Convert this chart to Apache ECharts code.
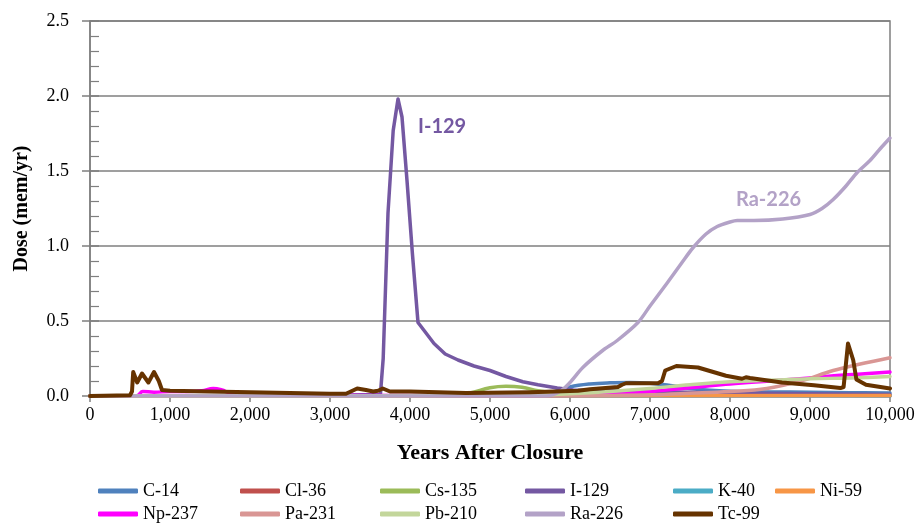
<!DOCTYPE html>
<html>
<head>
<meta charset="utf-8">
<script src="https://cdn.jsdelivr.net/npm/echarts@6/dist/echarts.min.js"></script>
<style>
  html, body { margin: 0; padding: 0; background: #fff; }
  #chart { width: 921px; height: 523px; }
</style>
</head>
<body>
<div id="chart"></div>
<script>
// values (years after closure, dose in mem/yr)
const c14Years = [0, 5500, 5750, 6000, 6250, 6500, 6750, 7000, 7250, 7500, 7750, 8000, 8500, 9000, 9500, 10000];
const c14Dose  = [0, 0.003, 0.02, 0.06, 0.08, 0.088, 0.09, 0.085, 0.07, 0.05, 0.038, 0.032, 0.027, 0.025, 0.022, 0.02];

const cl36Years = [0, 10000];
const cl36Dose  = [0, 0];

const cs135Years = [0, 4500, 4750, 5000, 5200, 5400, 5600, 5800, 6000, 7000, 8000, 9000, 10000];
const cs135Dose  = [0, 0.003, 0.02, 0.055, 0.065, 0.058, 0.035, 0.02, 0.015, 0.01, 0.008, 0.006, 0.005];

const i129Years = [0, 3000, 3630, 3665, 3725, 3790, 3850, 3900, 3962, 4030, 4100, 4200, 4300, 4440, 4600, 4800, 5000, 5200, 5410, 5600, 5840, 6040, 6500, 7000, 8000, 9000, 10000];
const i129Dose  = [0, 0.005, 0.01, 0.25, 1.22, 1.77, 1.98, 1.86, 1.44, 0.95, 0.49, 0.42, 0.35, 0.28, 0.24, 0.2, 0.17, 0.13, 0.095, 0.075, 0.053, 0.04, 0.035, 0.03, 0.02, 0.015, 0.01];

const k40Years = [0, 10000];
const k40Dose  = [0, 0];

const ni59Years = [0, 5000, 10000];
const ni59Dose  = [0, 0.002, 0.004];

const np237Years = [0, 550, 600, 660, 800, 1000, 1200, 1400, 1540, 1650, 1750, 2000, 3000, 4000, 5000, 6000, 6500, 6800, 7200, 7600, 8000, 8500, 9000, 9300, 9600, 10000];
const np237Dose  = [0, 0, 0.005, 0.03, 0.025, 0.03, 0.03, 0.035, 0.05, 0.04, 0.02, 0.01, 0.005, 0.003, 0.003, 0.005, 0.01, 0.02, 0.04, 0.06, 0.08, 0.1, 0.12, 0.135, 0.145, 0.16];

const pa231Years = [0, 6000, 6500, 7000, 7500, 8000, 8460, 8880, 9290, 9600, 10000];
const pa231Dose  = [0, 0.001, 0.004, 0.008, 0.018, 0.03, 0.05, 0.1, 0.17, 0.21, 0.255];

const pb210Years = [0, 5500, 6000, 6500, 7000, 7500, 8000, 8500, 9000, 9500, 10000];
const pb210Dose  = [0, 0.005, 0.015, 0.03, 0.05, 0.075, 0.095, 0.105, 0.115, 0.12, 0.13];

const ra226Years = [0, 5700, 5875, 6000, 6160, 6400, 6590, 6850, 7000, 7210, 7400, 7540, 7700, 7840, 8000, 8090, 8300, 8660, 9000, 9150, 9290, 9450, 9590, 9750, 9880, 10000];
const ra226Dose  = [0, 0, 0.03, 0.09, 0.19, 0.3, 0.37, 0.49, 0.6, 0.75, 0.89, 0.99, 1.08, 1.13, 1.16, 1.17, 1.17, 1.18, 1.21, 1.25, 1.31, 1.4, 1.49, 1.57, 1.65, 1.72];

const tc99Years = [0, 500, 525, 540, 590, 650, 730, 800, 860, 900, 1000, 1500, 2000, 2500, 3000, 3200, 3340, 3450, 3540, 3600, 3660, 3750, 4000, 4700, 5500, 6100, 6250, 6600, 6650, 6700, 7100, 7150, 7190, 7330, 7600, 7950, 8150, 8200, 8250, 8650, 9050, 9380, 9420, 9475, 9540, 9580, 9700, 10000];
const tc99Dose  = [0, 0.005, 0.03, 0.16, 0.09, 0.15, 0.09, 0.16, 0.1, 0.04, 0.035, 0.03, 0.025, 0.02, 0.015, 0.015, 0.05, 0.04, 0.03, 0.035, 0.05, 0.03, 0.03, 0.02, 0.025, 0.035, 0.045, 0.06, 0.075, 0.085, 0.085, 0.1, 0.17, 0.2, 0.19, 0.135, 0.115, 0.125, 0.12, 0.09, 0.072, 0.053, 0.06, 0.35, 0.24, 0.11, 0.075, 0.05];

const xTicks = [0, 1000, 2000, 3000, 4000, 5000, 6000, 7000, 8000, 9000, 10000];
const yTicks = [0, 0.5, 1.0, 1.5, 2.0, 2.5];

const legendRow1 = ['C-14', 'Cl-36', 'Cs-135', 'I-129', 'K-40', 'Ni-59'];
const legendRow2 = ['Np-237', 'Pa-231', 'Pb-210', 'Ra-226', 'Tc-99'];

function pairs(xs, ys) {
    return xs.map((x, i) => [x, ys[i]]);
}

const serifFont = '"Liberation Serif", "Times New Roman", serif';
const axisGray = '#7f7f7f';

const chart = echarts.init(document.getElementById('chart'));

function line(name, xs, ys, color, smooth, width) {
    return {
        name: name,
        type: 'line',
        data: pairs(xs, ys),
        showSymbol: false,
        symbol: 'none',
        smooth: smooth,
        lineStyle: { color: color, width: width || 3.5, cap: 'round', join: 'round' },
        itemStyle: { color: color },
        animation: false
    };
}

// one legend per entry so the columns sit where the picture has them
const legendCols = [98, 240, 380, 525, 673, 775];
function legendItem(name, col, top) {
    return {
        left: legendCols[col],
        top: top,
        data: [name],
        icon: 'roundRect',
        itemWidth: 40,
        itemHeight: 5,
        padding: 0,
        textStyle: { fontFamily: serifFont, fontSize: 18, color: '#000' }
    };
}
const legends = legendRow1.map((n, i) => legendItem(n, i, 482))
    .concat(legendRow2.map((n, i) => legendItem(n, i, 505)));

chart.setOption({
    backgroundColor: '#fff',
    animation: false,
    grid: {
        left: 90, right: 31, top: 21, bottom: 127,
        containLabel: false,
        outerBoundsMode: 'none',
        show: true,
        borderColor: axisGray,
        borderWidth: 1.5,
        backgroundColor: 'transparent'
    },
    legend: legends,
    xAxis: {
        type: 'value',
        min: xTicks[0],
        max: xTicks[xTicks.length - 1],
        interval: 1000,
        name: 'Years After Closure',
        nameLocation: 'middle',
        nameGap: 46,
        nameTextStyle: { fontFamily: serifFont, fontSize: 22, fontWeight: 'bold', color: '#000' },
        axisLine: { show: true, lineStyle: { color: axisGray, width: 1.5 } },
        axisTick: { show: true, inside: false, length: 6, lineStyle: { color: axisGray, width: 1.5 } },
        axisLabel: {
            fontFamily: serifFont, fontSize: 18, color: '#000', margin: 10,
            formatter: v => v.toLocaleString('en-US')
        },
        splitLine: { show: false }
    },
    yAxis: [
        {
            type: 'value',
            min: yTicks[0],
            max: yTicks[yTicks.length - 1],
            interval: 0.5,
            name: 'Dose (mem/yr)',
            nameLocation: 'middle',
            nameGap: 58,
            nameTextStyle: { fontFamily: serifFont, fontSize: 20, fontWeight: 'bold', color: '#000' },
            axisLine: { show: true, lineStyle: { color: axisGray, width: 1.5 } },
            axisTick: { show: true, inside: false, length: 8, lineStyle: { color: axisGray, width: 1.5 } },
            axisLabel: {
                fontFamily: serifFont, fontSize: 18, color: '#000', margin: 21,
                formatter: v => v.toFixed(1)
            },
            splitLine: { show: true, lineStyle: { color: axisGray, width: 1.5 } }
        },
        {
            // second copy of the same scale, only for the inner ticks
            type: 'value',
            position: 'left',
            min: yTicks[0],
            max: yTicks[yTicks.length - 1],
            interval: 0.5,
            axisLine: { show: false },
            axisTick: { show: true, inside: true, length: 9, lineStyle: { color: axisGray, width: 1.5 } },
            minorTick: { show: true, splitNumber: 5, length: 9, lineStyle: { color: axisGray, width: 1.2 } },
            axisLabel: { show: false },
            splitLine: { show: false }
        }
    ],
    graphic: [
        {
            type: 'text', left: 418, top: 117,
            style: { text: 'I-129', fill: '#7458a2', font: 'bold 20px Lato, "Open Sans", sans-serif' }
        },
        {
            type: 'text', left: 736, top: 190,
            style: { text: 'Ra-226', fill: '#b3a2c7', font: 'bold 20px Lato, "Open Sans", sans-serif' }
        }
    ],
    series: [
        line('C-14', c14Years, c14Dose, '#4f81bd', 0.4),
        line('Cl-36', cl36Years, cl36Dose, '#c0504d', false),
        line('Cs-135', cs135Years, cs135Dose, '#9bbb59', 0.4),
        line('I-129', i129Years, i129Dose, '#7458a2', false),
        line('K-40', k40Years, k40Dose, '#4bacc6', false),
        line('Ni-59', ni59Years, ni59Dose, '#f79646', false),
        line('Np-237', np237Years, np237Dose, '#ff00ff', 0.4),
        line('Pa-231', pa231Years, pa231Dose, '#d99694', 0.4),
        line('Pb-210', pb210Years, pb210Dose, '#c3d69b', 0.4),
        line('Ra-226', ra226Years, ra226Dose, '#b3a2c7', 0.3),
        line('Tc-99', tc99Years, tc99Dose, '#663300', false, 4)
    ]
});
</script>
</body>
</html>
